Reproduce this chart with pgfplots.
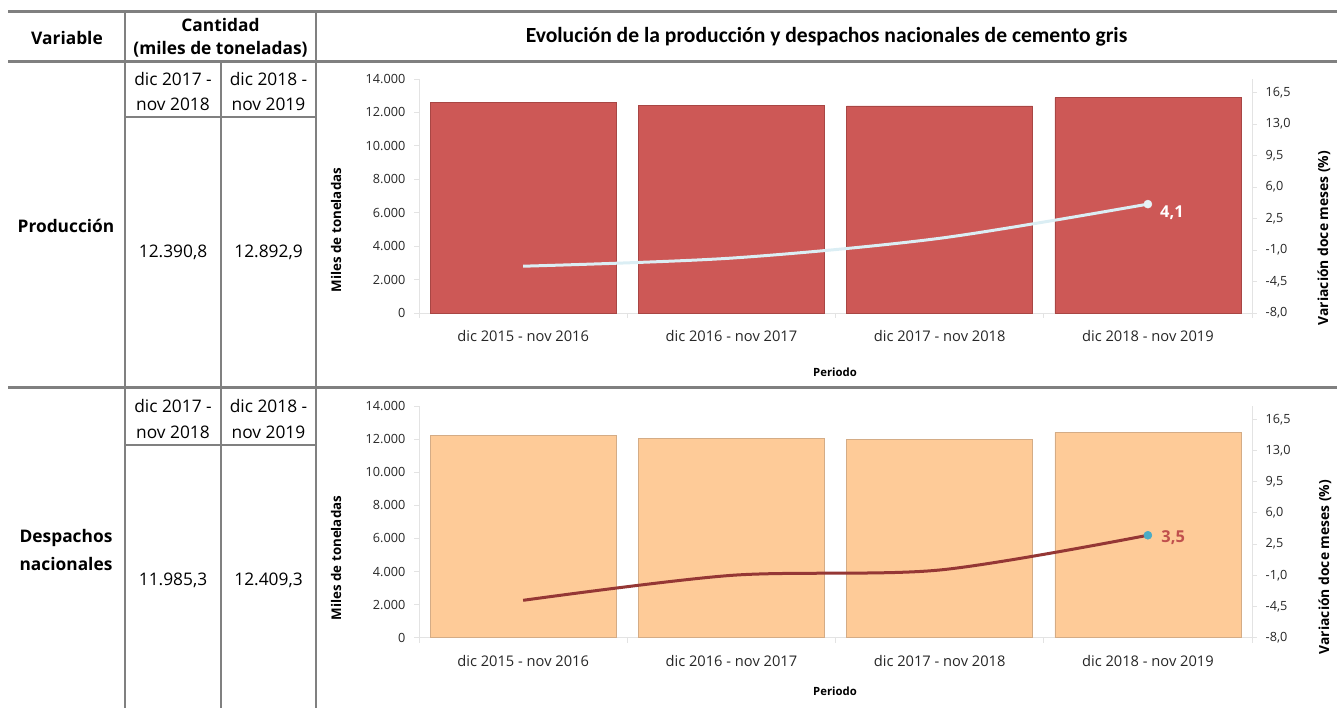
\documentclass[border=0pt]{standalone}
\usepackage{pgfplots}
\pgfplotsset{compat=1.18}
\usepackage{fontspec}
\setmainfont{Open Sans}
\newfontfamily\titlefont{Carlito}
\definecolor{rulec}{HTML}{808080}
\definecolor{barred}{HTML}{CD5856}
\definecolor{barrededge}{HTML}{A84644}
\definecolor{barorange}{HTML}{FECB98}
\definecolor{barorangeedge}{HTML}{D4AC86}
\definecolor{lineblue}{HTML}{DBEEF4}
\definecolor{markblue}{HTML}{E6F2F7}
\definecolor{linered}{HTML}{953735}
\definecolor{tealc}{HTML}{4BACC6}
\definecolor{labred}{HTML}{C0504D}
\definecolor{axgray}{HTML}{E3E3E3}
\definecolor{txt}{HTML}{262626}

\pgfplotsset{
  base/.style={
    scale only axis, width=624.75pt,
    xmin=-0.5, xmax=3.5,
    axis line style={axgray, line width=0.75pt},
    tick style={axgray, line width=0.75pt},
    tick align=outside,
    major tick length=3.75pt,
    /pgf/number format/assume math mode=true,
    yticklabel style={font=\fontsize{9.5}{11}\selectfont, text=txt},
  },
  leftax/.style={base,
    axis y line*=left, axis x line*=bottom,
    ymin=0, ymax=14000, ytick={0,2000,...,14000},
    scaled y ticks=false,
    yticklabel style={xshift=-3pt, /pgf/number format/fixed, /pgf/number format/1000 sep={.}},
    xtick={-0.5,0.5,1.5,2.5,3.5},
    x tick label as interval,
    xticklabels={dic 2015 - nov 2016, dic 2016 - nov 2017, dic 2017 - nov 2018, dic 2018 - nov 2019},
    xticklabel style={font=\fontsize{11}{13}\selectfont, text=txt, yshift=-6pt},
    ybar, bar width=0.894,
  },
  rightax/.style={base,
    axis y line*=right, axis x line=none,
    ymin=-8, ymax=18, ytick={-8,-4.5,...,16.5},
    yticklabel style={xshift=3pt, /pgf/number format/fixed, /pgf/number format/fixed zerofill, /pgf/number format/precision=1, /pgf/number format/use comma},
  },
  lab/.style={nodes near coords, point meta=y,
    every node near coord/.append style={anchor=west, inner sep=0pt,
      /pgf/number format/fixed, /pgf/number format/fixed zerofill, /pgf/number format/precision=1, /pgf/number format/use comma, /pgf/number format/assume math mode=true}},
}

\begin{document}
\begin{tikzpicture}
\useasboundingbox (0pt,0pt) rectangle (1002.75pt,-531pt);
\begin{scope}[x=0.75pt, y=-0.75pt]
  % rules
  \draw[rulec, line width=2.25pt] (8,11.5) -- (1337,11.5);
  \draw[rulec, line width=2.25pt] (8,61.5) -- (1337,61.5);
  \draw[rulec, line width=2.25pt] (8,387.5) -- (1337,387.5);
  \draw[rulec, line width=1.5pt] (125,11.5) -- (125,708);
  \draw[rulec, line width=1.5pt] (316,11.5) -- (316,708);
  \draw[rulec, line width=1.5pt] (221,61.5) -- (221,708);
  \draw[rulec, line width=1.5pt] (125,117) -- (316,117);
  \draw[rulec, line width=1.5pt] (125,445) -- (316,445);
  % header texts
  \node[font=\bfseries\fontsize{13}{15}\selectfont] at (67,38) {Variable};
  \node[font=\bfseries\fontsize{13}{15}\selectfont] at (220.5,25) {Cantidad};
  \node[font=\bfseries\fontsize{13}{15}\selectfont] at (220.5,49) {(miles de toneladas)};
  \node[font=\titlefont\bfseries\fontsize{16.2}{19}\selectfont] at (826.5,37) {Evolución de la producción y despachos nacionales de cemento gris};
  % row 1
  \node[font=\fontsize{13}{15}\selectfont] at (173,79) {dic 2017 -};
  \node[font=\fontsize{13}{15}\selectfont] at (173,104) {nov 2018};
  \node[font=\fontsize{13}{15}\selectfont] at (268.5,79) {dic 2018 -};
  \node[font=\fontsize{13}{15}\selectfont] at (268.5,104) {nov 2019};
  \node[font=\bfseries\fontsize{13}{15}\selectfont] at (66,226) {Producción};
  \node[font=\fontsize{13}{15}\selectfont] at (173,252) {12.390,8};
  \node[font=\fontsize{13}{15}\selectfont] at (268.5,252) {12.892,9};
  % row 2
  \node[font=\fontsize{13}{15}\selectfont] at (173,406) {dic 2017 -};
  \node[font=\fontsize{13}{15}\selectfont] at (173,432) {nov 2018};
  \node[font=\fontsize{13}{15}\selectfont] at (268.5,406) {dic 2018 -};
  \node[font=\fontsize{13}{15}\selectfont] at (268.5,432) {nov 2019};
  \node[font=\bfseries\fontsize{13}{15}\selectfont] at (66,538) {Despachos};
  \node[font=\bfseries\fontsize{13}{15}\selectfont] at (66,564) {nacionales};
  \node[font=\fontsize{13}{15}\selectfont] at (173,580) {11.985,3};
  \node[font=\fontsize{13}{15}\selectfont] at (268.5,580) {12.409,3};
  % axis titles
  \node[font=\bfseries\fontsize{10}{11}\selectfont, rotate=90] at (336,230) {Miles de toneladas};
  \node[font=\bfseries\fontsize{10.4}{11}\selectfont, rotate=90] at (1324,238) {Variación doce meses (\%)};
  \node[font=\bfseries\fontsize{8.5}{10}\selectfont] at (835,372) {Periodo};
  \node[font=\bfseries\fontsize{10}{11}\selectfont, rotate=90] at (336,558) {Miles de toneladas};
  \node[font=\bfseries\fontsize{10.4}{11}\selectfont, rotate=90] at (1325,567) {Variación doce meses (\%)};
  \node[font=\bfseries\fontsize{8.5}{10}\selectfont] at (835,691) {Periodo};
\end{scope}

% ---- top chart
\begin{axis}[leftax, at={(314.25pt,-234.75pt)}, anchor=south west, height=175.5pt]
  \addplot[fill=barred, draw=barrededge, line width=0.4pt] coordinates {(0,12600) (1,12430) (2,12390.8) (3,12892.9)};
\end{axis}
\begin{axis}[rightax, at={(314.25pt,-234.75pt)}, anchor=south west, height=175.5pt]
  \addplot[lineblue, line width=2.25pt, smooth, no marks] coordinates {(0,-2.8) (1,-1.9) (2,0.3) (3,4.1)};
  \addplot[only marks, mark=*, mark size=3pt, mark options={fill=markblue, draw=markblue}, lab,
    every node near coord/.append style={font=\bfseries\fontsize{12.3}{14}\selectfont, text=white, xshift=9pt, yshift=-6.5pt}]
    coordinates {(3,4.1)};
\end{axis}

% ---- bottom chart
\begin{axis}[leftax, at={(314.25pt,-478.3pt)}, anchor=south west, height=173.8pt]
  \addplot[fill=barorange, draw=barorangeedge, line width=0.4pt] coordinates {(0,12210) (1,12050) (2,11985.3) (3,12409.3)};
\end{axis}
\begin{axis}[rightax, at={(314.25pt,-478.3pt)}, anchor=south west, height=173.8pt]
  \addplot[linered, line width=2.25pt, smooth, no marks] coordinates {(0,-3.8) (1,-1.0) (2,-0.4) (3,3.5)};
  \addplot[only marks, mark=*, mark size=3pt, mark options={fill=tealc, draw=tealc}, lab,
    every node near coord/.append style={font=\bfseries\fontsize{12.3}{14}\selectfont, text=labred, xshift=10pt, yshift=-2pt}]
    coordinates {(3,3.5)};
\end{axis}
\end{tikzpicture}
\end{document}
